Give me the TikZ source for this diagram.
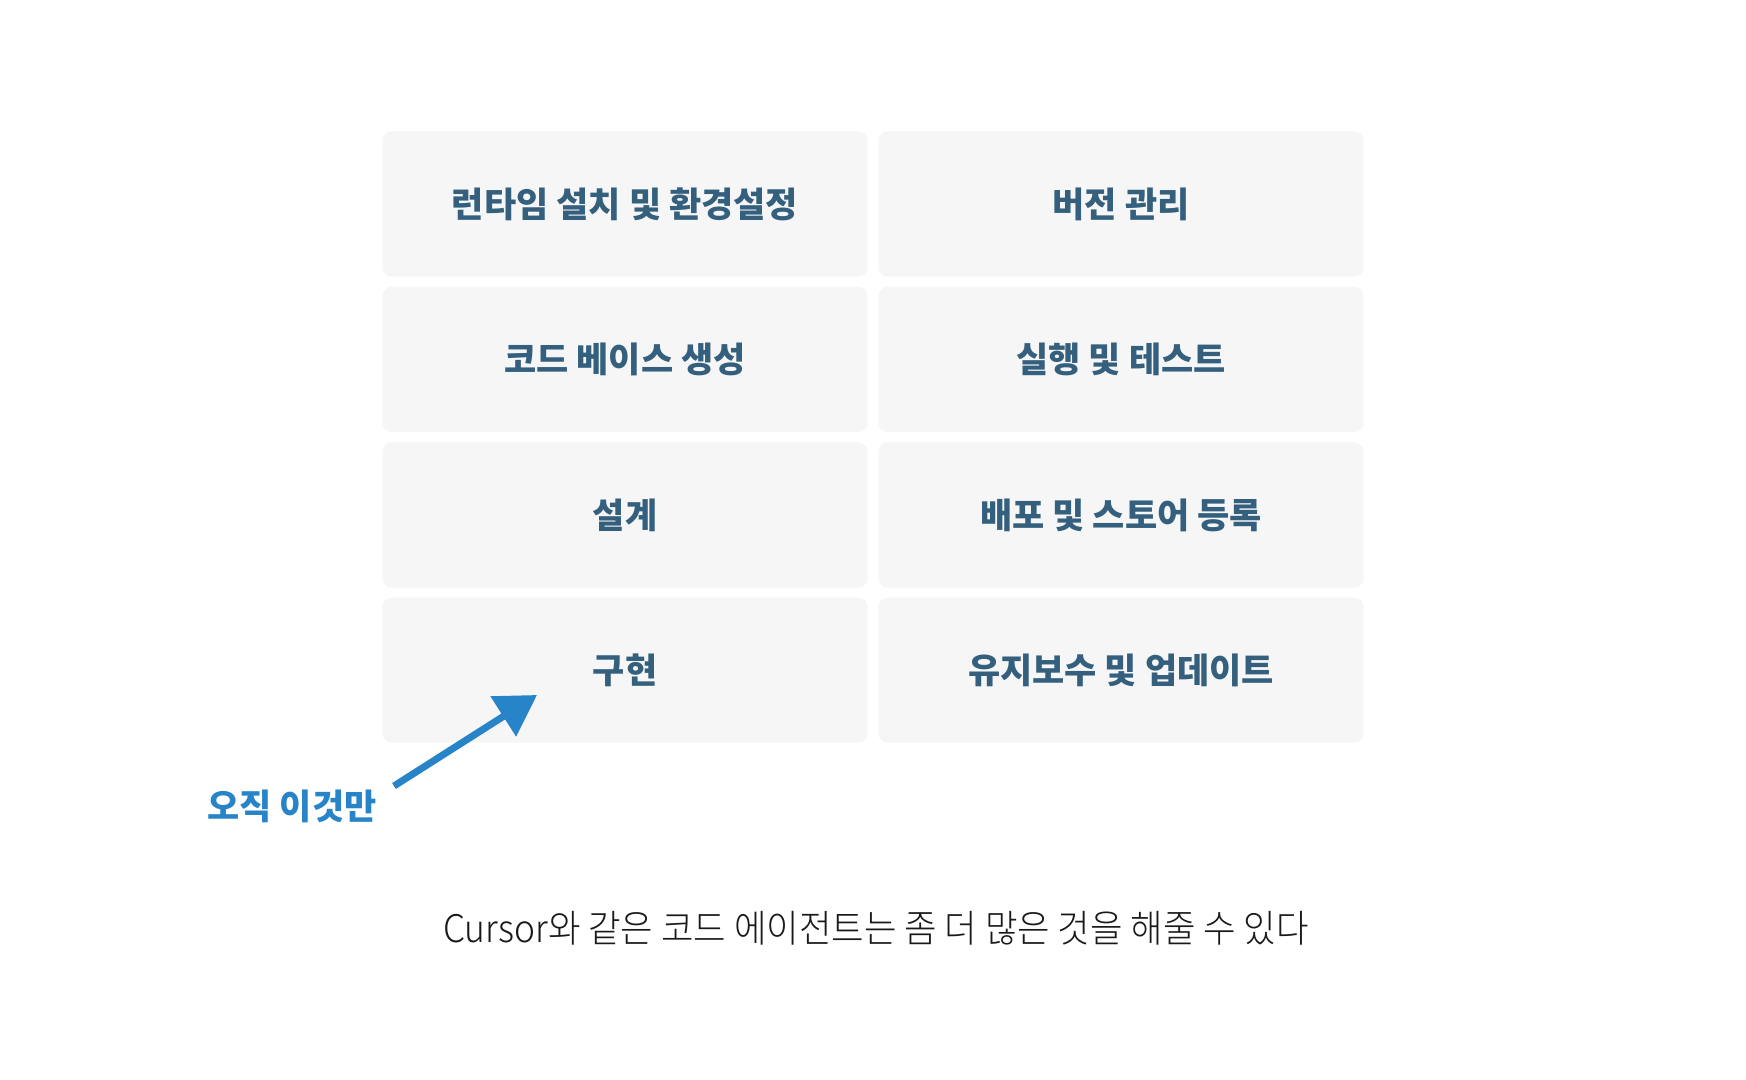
\documentclass[tikz,border=0pt]{standalone}
\usepackage{fontspec}
\usetikzlibrary{arrows.meta}
\newfontfamily\krfont{Noto Sans CJK KR}
\newfontfamily\krlight[FakeStretch=0.93]{Noto Sans CJK KR Light}
\definecolor{cellfill}{HTML}{F6F6F6}
\definecolor{celltext}{HTML}{34607E}
\definecolor{pointer}{HTML}{2784C8}
\begin{document}
\begin{tikzpicture}[x=0.5pt, y=-0.5pt,
  cell/.style={rectangle, rounded corners=4.5pt, fill=cellfill, minimum width=242.5pt, minimum height=72.5pt, text=celltext, font=\krfont\bfseries\fontsize{17.5pt}{20pt}\selectfont},
  pointer/.style={draw=pointer, line width=3.5pt, -{Triangle[length=20pt, width=23pt]}}]
\useasboundingbox [fill=white] (0,0) rectangle (1746,1080);
\node [cell] (runtime) at (625,204) {런타임 설치 및 환경설정};
\node [cell] (version) at (1121,204) {버전 관리};
\node [cell] (codebase) at (625,359.5) {코드 베이스 생성};
\node [cell] (runtest) at (1121,359.5) {실행 및 테스트};
\node [cell] (design) at (625,515) {설계};
\node [cell] (deploy) at (1121,515) {배포 및 스토어 등록};
\node [cell] (impl) at (625,670) {구현};
\node [cell] (maint) at (1121,670) {유지보수 및 업데이트};

\node [text=pointer, font=\krfont\bfseries\fontsize{17.5pt}{20pt}\selectfont] (only) at (292,806) {오직 이것만};
\coordinate (tail) at (394,786);
\coordinate (tip) at (537,695);
\draw [pointer] (tail) -- (tip);

\node [font=\krlight\fontsize{19pt}{22pt}\selectfont, text=black!90] (caption) at (876,928) {Cursor와 같은 코드 에이전트는 좀 더 많은 것을 해줄 수 있다};
\end{tikzpicture}
\end{document}
